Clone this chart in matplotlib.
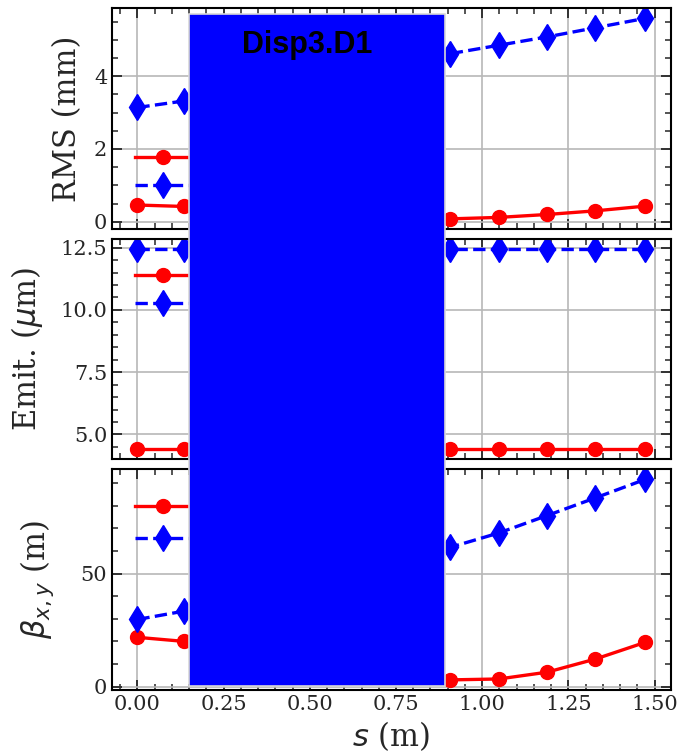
import numpy as np
import matplotlib
matplotlib.use('Agg')
from matplotlib import pyplot as plt
from matplotlib.patches import Rectangle
from matplotlib.ticker import AutoMinorLocator, MultipleLocator

# longitudinal position along the line (m)
s = [0.0, 0.136, 0.27, 0.41, 0.55, 0.69, 0.80, 0.908, 1.048, 1.188, 1.328, 1.473]

# beam sizes (mm)
rms_x = [0.46, 0.42, 0.35, 0.27, 0.20, 0.14, 0.10, 0.08, 0.12, 0.20, 0.30, 0.43]
rms_y = [3.14, 3.32, 3.55, 3.80, 4.05, 4.28, 4.45, 4.62, 4.85, 5.08, 5.33, 5.59]

# normalised emittances (um)
emit_x = [4.40] * len(s)
emit_y = [12.45] * len(s)

# twiss beta functions (m)
beta_x = [21.8, 20.0, 17.0, 13.5, 10.0, 7.0, 4.5, 3.0, 3.4, 6.4, 12.2, 19.6]
beta_y = [29.7, 33.4, 37.5, 42.0, 47.0, 52.0, 56.5, 61.6, 67.9, 75.6, 83.4, 91.6]

element_name = 'Disp3.D1'

plt.rcParams['font.family'] = 'DejaVu Serif'
plt.rcParams['text.color'] = '#262626'
plt.rcParams['xtick.color'] = '#262626'
plt.rcParams['ytick.color'] = '#262626'
plt.rcParams['axes.labelcolor'] = '#262626'


def style_axis(ax, ystep):
    ax.grid(True, color='#b8b8b8', linewidth=1.2)
    ax.set_axisbelow(True)
    ax.yaxis.set_major_locator(MultipleLocator(ystep))
    ax.xaxis.set_minor_locator(AutoMinorLocator())
    ax.yaxis.set_minor_locator(AutoMinorLocator())
    ax.tick_params(which='both', direction='in', top=True, right=True, labelsize=15)
    ax.tick_params(which='major', length=7, width=1.3)
    ax.tick_params(which='minor', length=4, width=1.1)
    for sp in ax.spines.values():
        sp.set_linewidth(1.5)
        sp.set_color('black')


def plot_pair(ax, y1, y2, labels, loc, anchor, ystep):
    ax.plot(s, y1, color='red', linestyle='-', marker='o', linewidth=2.4,
            markersize=10, label=labels[0])
    ax.plot(s, y2, color='blue', linestyle='--', marker='d', linewidth=2.4,
            markersize=13, label=labels[1])
    ax.legend(loc=loc, bbox_to_anchor=anchor, frameon=False, fontsize=14,
              handlelength=2.9, labelspacing=0.45, numpoints=1)
    style_axis(ax, ystep)


fig, axes = plt.subplots(3, 1, sharex=True, figsize=(6.83, 7.54), dpi=100)
fig.subplots_adjust(left=0.164, right=0.982, top=0.989, bottom=0.085, hspace=0.045)

plot_pair(axes[0], rms_x, rms_y, [r'$\sigma_x$', r'$\sigma_y$'],
          'lower left', (0.009, 0.05), 2)
axes[0].set_ylabel('RMS (mm)', fontsize=22, labelpad=8)

plot_pair(axes[1], emit_x, emit_y, [r'$\epsilon_x$', r'$\epsilon_y$'],
          'upper left', (0.009, 0.95), 2.5)
axes[1].set_ylabel(r'Emit. ($\mu$m)', fontsize=22, labelpad=11)

plot_pair(axes[2], beta_x, beta_y, [r'$\beta_x$', r'$\beta_y$'],
          'upper left', (0.009, 0.96), 50)
axes[2].set_ylabel(r'$\beta_{x,y}$ (m)', fontsize=22, labelpad=18)
axes[2].set_xlabel(r'$s$ (m)', fontsize=22)

# element box laid over all three panels
fig.add_artist(Rectangle((189 / 683, 1 - 686 / 754), 256 / 683, 672 / 754,
                         transform=fig.transFigure, facecolor='#0000ff',
                         edgecolor='#d8d8d8', linewidth=1.2, zorder=5))
fig.text(307 / 683, 1 - 45 / 754, element_name, fontsize=22, fontweight='bold',
         family='Liberation Sans', color='black', ha='center', va='center', zorder=6)

fig.savefig('out.png', dpi=100)
